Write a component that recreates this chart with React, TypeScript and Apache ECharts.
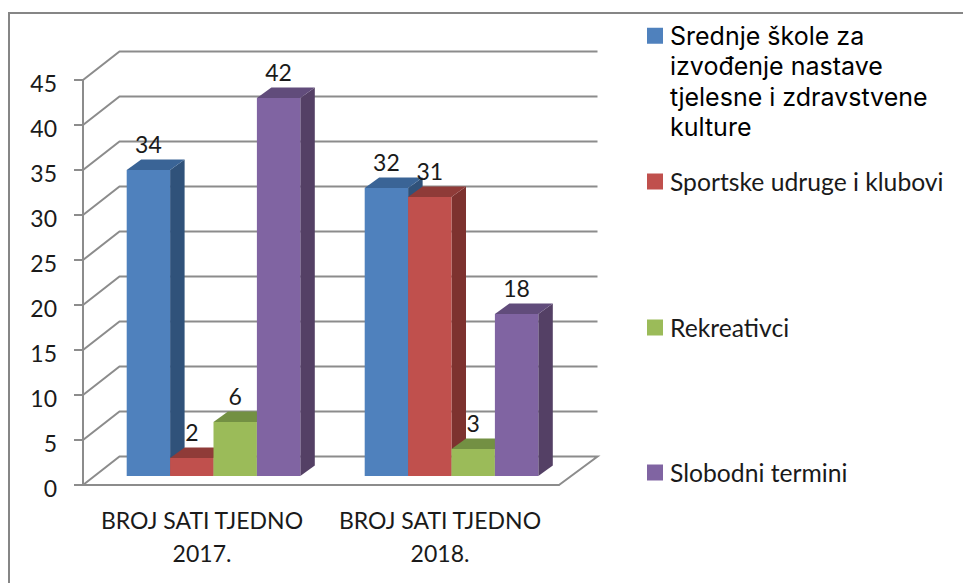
import React, { useEffect, useRef } from "react";
import * as echarts from "echarts";

const categories = ["BROJ SATI TJEDNO\n2017.", "BROJ SATI TJEDNO\n2018."];
const seriesNames = [
  "Srednje škole za\nizvođenje nastave\ntjelesne i zdravstvene\nkulture",
  "Sportske udruge i klubovi",
  "Rekreativci",
  "Slobodni termini",
];
const schoolValues = [34, 32];
const clubValues = [2, 31];
const recreationValues = [6, 3];
const freeValues = [42, 18];
const wallTicks = [0, 5, 10, 15, 20, 25, 30, 35, 40, 45];
const frontColors = ["#4F81BD", "#C0504D", "#9BBB59", "#8064A2"];
const topColors = ["#3A6496", "#8F3B38", "#739043", "#614C7B"];
const sideColors = ["#30527A", "#7D322F", "#5F7A35", "#544065"];

const GRAY = "#8C8C8C";
const WALL_DX = 36.5;
const WALL_DY = 28.5;
const BAR_DX = 14.5;
const BAR_DY = 10.5;
const FLOOR_LIFT = 9;
const GROUP_SHIFT = 11.5;
const BAR_W = 43.4;

function wallItem(params: any, api: any) {
  const v = api.value(1);
  const cs = params.coordSys;
  const y = api.coord([0, v])[1];
  const x0 = cs.x;
  const x1 = cs.x + cs.width;
  const points =
    v === 0
      ? [[x0, y], [x0 + WALL_DX, y - WALL_DY], [x1 + WALL_DX + 2, y - WALL_DY], [x1, y]]
      : [[x0, y], [x0 + WALL_DX, y - WALL_DY], [x1 + WALL_DX + 2, y - WALL_DY]];
  return {
    type: "polyline",
    shape: { points },
    style: { stroke: GRAY, lineWidth: 2, fill: "none" },
    silent: true,
  };
}

function barRenderer(s: number) {
  return (_params: any, api: any) => {
    const idx = api.value(0);
    const v = api.value(1);
    const c0 = api.coord([idx, 0]);
    const c1 = api.coord([idx, v]);
    const left = c0[0] + GROUP_SHIFT - 2 * BAR_W + s * BAR_W;
    const right = left + BAR_W;
    const base = c0[1] - FLOOR_LIFT;
    const top = c1[1] - FLOOR_LIFT;
    return {
      type: "group",
      children: [
        {
          type: "polygon",
          shape: { points: [[right, top], [right + BAR_DX, top - BAR_DY], [right + BAR_DX, base - BAR_DY], [right, base]] },
          style: { fill: sideColors[s] },
        },
        {
          type: "polygon",
          shape: { points: [[left, top], [left + BAR_DX, top - BAR_DY], [right + BAR_DX, top - BAR_DY], [right, top]] },
          style: { fill: topColors[s] },
        },
        {
          type: "rect",
          shape: { x: left, y: top, width: BAR_W, height: base - top },
          style: { fill: frontColors[s] },
        },
        {
          type: "text",
          z2: 100,
          style: {
            x: (left + right) / 2,
            y: top - 26.5,
            text: String(v),
            fill: "#1A1A1A",
            font: '23px Lato, sans-serif',
            align: "center",
            verticalAlign: "middle",
          },
        },
      ],
    };
  };
}

const barValues = [schoolValues, clubValues, recreationValues, freeValues];

export default function App() {
  const ref = useRef<HTMLDivElement>(null);
  useEffect(() => {
    document.body.style.margin = "0";
    const chart = echarts.init(ref.current!, undefined, { renderer: "svg" });
    const legendTops = [37, 182, 328, 473];
    chart.setOption({
      animation: false,
      backgroundColor: "#FFFFFF",
      grid: { left: 83, top: 80, width: 476, height: 405, containLabel: false },
      xAxis: {
        type: "category",
        data: categories,
        axisLine: { lineStyle: { color: GRAY, width: 2 } },
        axisTick: { interval: 0, length: 8, lineStyle: { color: GRAY, width: 2 } },
        axisLabel: {
          interval: 0,
          color: "#1A1A1A",
          fontFamily: "Lato, sans-serif",
          fontSize: 23,
          lineHeight: 32.5,
          margin: 19,
        },
      },
      yAxis: {
        type: "value",
        min: 0,
        max: 45,
        interval: 5,
        splitLine: { show: false },
        axisLine: { show: true, lineStyle: { color: GRAY, width: 2 } },
        axisTick: { show: true, length: 9, lineStyle: { color: GRAY, width: 2 } },
        axisLabel: {
          margin: 26,
          formatter: "{a|{value}}",
          rich: {
            a: {
              color: "#1A1A1A",
              fontFamily: "Lato, sans-serif",
              fontSize: 23,
              padding: [5, 0, 0, 0],
            },
          },
        },
      },
      legend: seriesNames.map((name, i) => ({
        data: [{ name, icon: "rect" }],
        orient: "vertical",
        left: 642,
        top: i === 0 ? legendTops[i] - 113 : legendTops[i] - 18,
        itemWidth: 16,
        itemHeight: 16,
        selectedMode: false,
        formatter: (n: string) => (n.includes("\n") ? "\n\n\n" + n : n),
        textStyle:
          i === 0
            ? { color: "#000000", fontFamily: "Inter, sans-serif", fontSize: 25, lineHeight: 30.5, padding: [0, 0, 0, 2] }
            : { color: "#1A1A1A", fontFamily: "Lato, sans-serif", fontSize: 24.7, padding: [0, 0, 0, 2] },
      })),
      graphic: [
        {
          type: "polyline",
          silent: true,
          shape: { points: [[9, 583], [9, 13], [963, 13]] },
          style: { stroke: "#868686", lineWidth: 2, fill: "none" },
        },
      ],
      series: [
        {
          type: "custom",
          name: "wall",
          z: 1,
          clip: false,
          silent: true,
          renderItem: wallItem,
          encode: { x: 0, y: 1 },
          data: wallTicks.map((v) => [0, v]),
        },
        ...seriesNames.map((name, s) => ({
          type: "custom",
          name,
          z: 3,
          clip: false,
          itemStyle: { color: frontColors[s] },
          renderItem: barRenderer(s),
          encode: { x: 0, y: 1 },
          data: barValues[s].map((v, i) => [i, v]),
        })),
      ],
    });
    return () => chart.dispose();
  }, []);
  return <div ref={ref} style={{ width: 963, height: 583, position: "absolute", left: 0, top: 0 }} />;
}
